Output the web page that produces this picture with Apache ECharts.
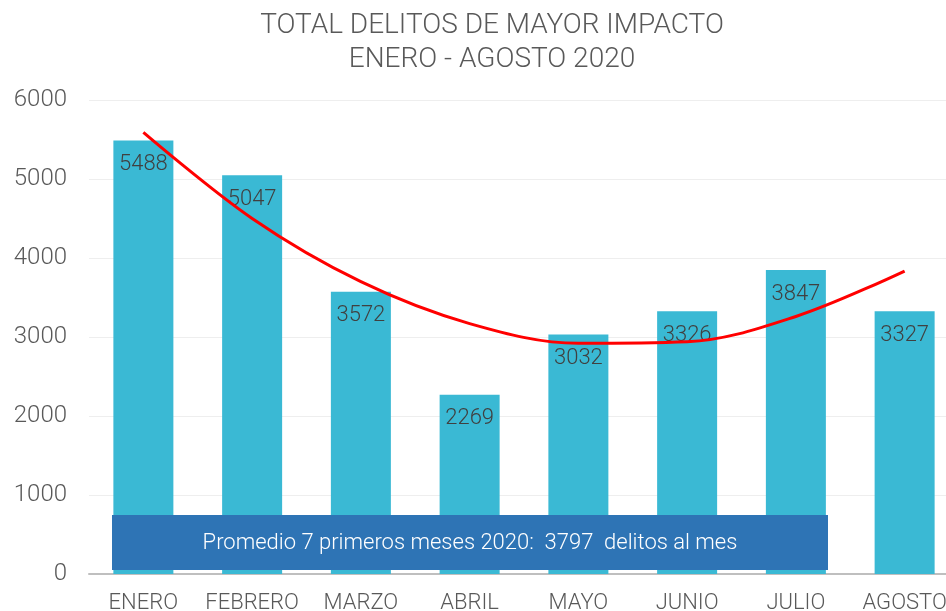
<!DOCTYPE html>
<html>
<head>
<meta charset="utf-8">
<script src="https://cdn.jsdelivr.net/npm/echarts@6/dist/echarts.min.js"></script>
<style>
html,body{margin:0;padding:0;background:#fff;overflow:hidden;width:946px;height:611px;}
#chart{width:959px;height:611px;}
</style>
</head>
<body>
<div id="chart"></div>
<script>
const categories = ['ENERO','FEBRERO','MARZO','ABRIL','MAYO','JUNIO','JULIO','AGOSTO'];
const delitos = [5488, 5047, 3572, 2269, 3032, 3326, 3847, 3327];
// Polynomial trend line at each month
const tendencia = [5590, 4500, 3700, 3170, 2920, 2940, 3260, 3835];
const yTicks = {min: 0, max: 6000, interval: 1000};
const titleLines = ['TOTAL DELITOS DE MAYOR IMPACTO', 'ENERO - AGOSTO 2020'];
const bannerText = 'Promedio 7 primeros meses 2020:  3797  delitos al mes';

const chart = echarts.init(document.getElementById('chart'), null, {renderer: 'canvas'});
const FONT = 'Roboto, "Noto Sans", sans-serif';
chart.setOption({
  animation: false,
  backgroundColor: '#ffffff',
  title: {
    text: titleLines.join('\n'),
    left: 487,
    top: 4,
    textAlign: 'center',
    textStyle: {
      color: '#595959',
      fontFamily: FONT,
      fontWeight: 300,
      fontSize: 28,
      lineHeight: 34
    }
  },
  grid: {left: 89, right: 0, top: 100, bottom: 37, containLabel: false, outerBoundsMode: 'none'},
  xAxis: {
    type: 'category',
    data: categories,
    axisTick: {show: false},
    axisLine: {lineStyle: {color: '#bfbfbf', width: 2}},
    axisLabel: {interval: 0, color: '#595959', fontFamily: FONT, fontWeight: 300, fontSize: 22, margin: 18}
  },
  yAxis: {
    type: 'value',
    min: yTicks.min, max: yTicks.max, interval: yTicks.interval,
    axisLine: {show: false},
    axisTick: {show: false},
    splitLine: {lineStyle: {color: '#eeeeee', width: 1}},
    axisLabel: {color: '#595959', fontFamily: FONT, fontWeight: 300, fontSize: 24, margin: 22,
      formatter: function (v) { return String(v); }}
  },
  series: [
    {
      type: 'bar',
      data: delitos,
      barWidth: 60,
      itemStyle: {color: '#3ab9d4'},
      label: {
        show: true,
        position: 'insideTop',
        distance: 13,
        color: '#404040',
        fontFamily: FONT,
        fontWeight: 300,
        fontSize: 22
      },
      z: 2
    },
    {
      type: 'line',
      data: tendencia,
      smooth: 0.35,
      symbol: 'none',
      lineStyle: {color: '#ff0000', width: 3},
      z: 5
    }
  ],
  graphic: [
    {
      type: 'rect',
      z: 100,
      shape: {x: 112, y: 515, width: 716, height: 55},
      style: {fill: '#2e74b5'}
    },
    {
      type: 'text',
      z: 101,
      x: 470,
      y: 543,
      style: {
        text: bannerText,
        fill: '#ffffff',
        font: '300 22px Roboto, sans-serif',
        textAlign: 'center',
        textVerticalAlign: 'middle'
      }
    }
  ]
});
</script>
</body>
</html>
